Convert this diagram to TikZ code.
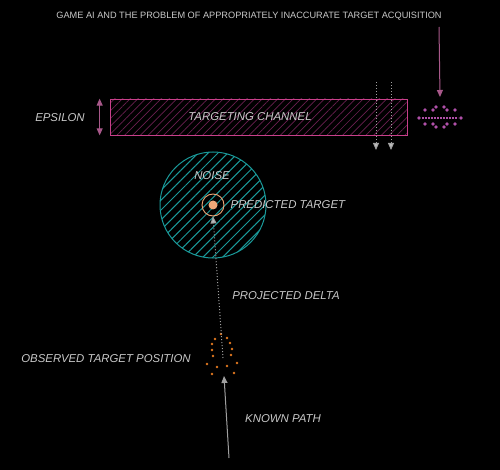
\documentclass[tikz,border=0pt]{standalone}
\usepackage{fontspec}
\setmainfont{Liberation Sans}
\usetikzlibrary{arrows.meta, patterns.meta, positioning}

\definecolor{bgblack}{HTML}{000000}
\definecolor{txtgray}{HTML}{C8C8C8}
\definecolor{chanpink}{HTML}{C8408A}
\definecolor{hatchpink}{HTML}{6A2050}
\definecolor{mauve}{HTML}{A8588A}
\definecolor{spreadpink}{HTML}{B050A8}
\definecolor{noiseteal}{HTML}{1A9A9A}
\definecolor{peach}{HTML}{F0A878}
\definecolor{obsorange}{HTML}{E07820}
\definecolor{pathgray}{HTML}{A0A0A0}

\begin{document}
\begin{tikzpicture}[
  x=1pt, y=-1pt,
  >={Triangle[length=7pt, width=6pt]},
  lbl/.style={text=txtgray, font=\itshape\fontsize{11.4}{13}\selectfont, inner sep=0pt},
  ttl/.style={text=txtgray, font=\fontsize{9.2}{11}\selectfont, inner sep=0pt},
  channel/.style={draw=chanpink, line width=0.9pt, minimum width=297pt, minimum height=36pt,
    pattern={Lines[angle=45, distance=5.5pt, line width=0.7pt]}, pattern color=hatchpink, inner sep=0pt},
  noise/.style={circle, draw=noiseteal, line width=1pt, minimum size=106pt,
    pattern={Lines[angle=45, distance=7pt, line width=1pt]}, pattern color=noiseteal, inner sep=0pt},
  ring/.style={circle, draw=peach, line width=0.9pt, minimum size=22pt, inner sep=0pt},
  core/.style={circle, fill=peach, minimum size=9pt, inner sep=0pt},
  span/.style={<->, draw=mauve, line width=1pt},
  incoming/.style={->, draw=mauve, line width=1pt},
  delta/.style={-{Triangle[length=7pt, width=6pt, fill=pathgray!70]}, draw=pathgray, dotted, line width=1pt},
  known/.style={->, draw=pathgray, line width=1pt},
  obsdot/.style={circle, fill=obsorange, minimum size=2.8pt, inner sep=0pt},
  spreaddot/.style={circle, fill=spreadpink, minimum size=3.6pt, inner sep=0pt}
]
  \fill[bgblack] (0,0) rectangle (500,470);

  % --- Titre ---
  \node[ttl] (title) at (249,16) {GAME AI AND THE PROBLEM OF APPROPRIATELY INACCURATE TARGET ACQUISITION};

  % --- Canal de visee ---
  \node[channel] (chan) at (258.5,117) {};
  \node[lbl] (chanlbl) at (250,117) {TARGETING CHANNEL};
  \draw[span] ([xshift=-10pt]chan.north west) -- ([xshift=-10pt]chan.south west);
  \node[lbl] (eps) at (60,118) {EPSILON};

  \coordinate (passA) at (376,82);
  \coordinate (passB) at (391,82);
  \draw[delta] (passA) -- ++(0,68);
  \draw[delta] (passB) -- ++(0,68);

  % --- Dispersion ---
  \coordinate (src) at (439,27);
  \coordinate (spread) at (440,118);
  \draw[incoming] (src) -- ([yshift=21pt]spread);
  \foreach \dx/\dy in {-15/-8, -7/-8, 7/-8, 15/-8, -4/-11, 4/-11,
                       -15/6, -7/6, 7/6, 15/6, -4/9, 4/9, -21/0, 21/0}
    \node[spreaddot] at ([shift={(\dx,\dy)}]spread) {};
  \draw[spreadpink, line width=1.6pt, dash pattern=on 2pt off 1pt] ([xshift=-18pt]spread) -- ([xshift=18pt]spread);

  % --- Bruit et cible ---
  \node[noise] (noise) at (213,205) {};
  \node[lbl] (noiselbl) at (212,176) {NOISE};
  \node[ring] (ring) at (213,205) {};
  \node[core] (core) at (213,205) {};
  \node[lbl, right=6pt of ring] (predlbl) {PREDICTED TARGET};

  % --- Position observee ---
  \coordinate (obs) at (223,358);
  \foreach \px/\py in {221/334, 215/339, 227/338, 212/344, 230/343, 212/350, 232/349,
                       213/356, 231/355, 207/364, 237/363, 217/367, 227/366, 212/374, 234/373}
    \node[obsdot] at (\px,\py) {};
  \node[lbl] (obslbl) at (106,359) {OBSERVED TARGET POSITION};
  \draw[delta] (obs) -- (ring.south);
  \node[lbl] (deltalbl) at (286,296) {PROJECTED DELTA};

  % --- Trajet connu ---
  \coordinate (start) at (229,458);
  \coordinate (kp) at (224,376);
  \draw[known] (start) -- (kp);
  \node[lbl] (knownlbl) at (283,419) {KNOWN PATH};

\end{tikzpicture}
\end{document}
